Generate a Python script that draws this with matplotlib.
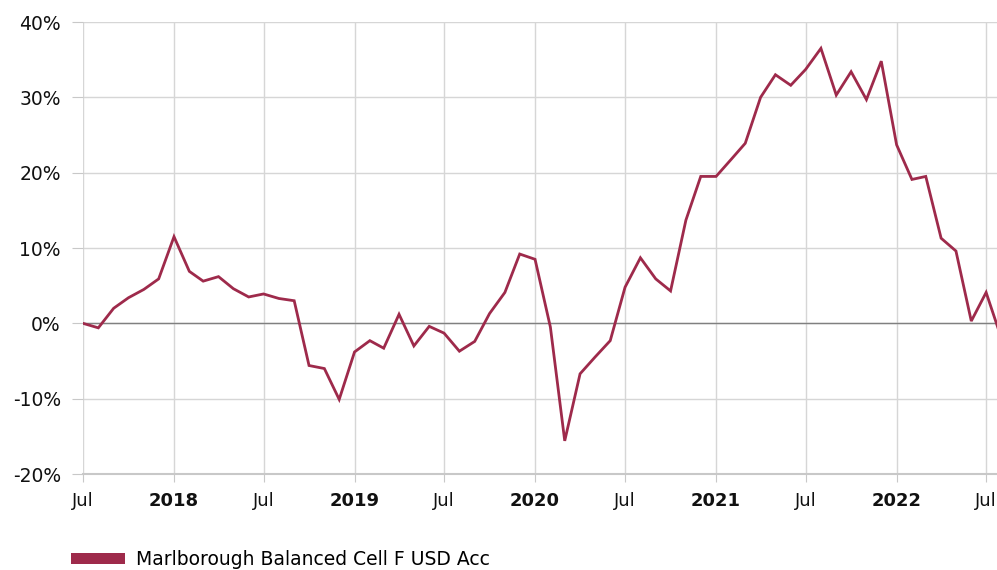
import matplotlib
matplotlib.use("Agg")
import matplotlib.pyplot as plt
from matplotlib.patches import Patch
from matplotlib.ticker import FuncFormatter
import pandas as pd

# ---- data ----
start_month = "2017-07-01"
values = [
    0.0, -0.6, 2.0, 3.4, 4.5, 5.9,            # Jul-Dec 2017
    11.5, 6.9, 5.6, 6.2, 4.6, 3.5,            # Jan-Jun 2018
    3.9, 3.3, 3.0, -5.6, -6.0, -10.1,         # Jul-Dec 2018
    -3.8, -2.3, -3.3, 1.2, -3.0, -0.4,        # Jan-Jun 2019
    -1.3, -3.7, -2.4, 1.3, 4.1, 9.2,          # Jul-Dec 2019
    8.5, -0.5, -15.6, -6.7, -4.5, -2.3,       # Jan-Jun 2020
    4.8, 8.7, 5.9, 4.3, 13.7, 19.5,           # Jul-Dec 2020
    19.5, 21.8, 23.9, 30.0, 33.0, 31.6,       # Jan-Jun 2021
    33.7, 36.5, 30.3, 33.4, 29.7, 34.8,       # Jul-Dec 2021
    23.7, 19.1, 19.5, 11.3, 9.6, 0.3,         # Jan-Jun 2022
    4.1, -2.0,                                # Jul-Aug 2022
]
series_name = "Marlborough Balanced Cell F USD Acc"
y_ticks = [-20, -10, 0, 10, 20, 30, 40]
x_tick_dates = ["2017-07-01", "2018-01-01", "2018-07-01", "2019-01-01", "2019-07-01",
                "2020-01-01", "2020-07-01", "2021-01-01", "2021-07-01", "2022-01-01",
                "2022-07-01"]
x_tick_labels = ["Jul", "2018", "Jul", "2019", "Jul", "2020", "Jul", "2021", "Jul", "2022", "Jul"]

dates = pd.date_range(start_month, periods=len(values), freq="MS")

# ---- figure ----
plt.rcParams['font.family'] = ['DejaVu Sans']
fig = plt.figure(figsize=(9.97, 5.70), dpi=100)
ax = fig.add_axes([83/997, 96/570, 914/997, 452/570])

line_color = "#9e2a4b"
ax.plot(dates, values, color=line_color, lw=2.0, solid_joinstyle="miter", zorder=3)

ax.set_ylim(-20, 40)
ax.set_xlim(pd.Timestamp("2017-07-01"), pd.Timestamp("2017-07-01") + pd.Timedelta(days=1848))

ax.set_yticks(y_ticks)
ax.yaxis.set_major_formatter(FuncFormatter(lambda v, p: f"{int(v)}%"))
tick_dt = pd.to_datetime(x_tick_dates)
ax.set_xticks(tick_dt)
ax.set_xticklabels(x_tick_labels)
for lab in ax.get_xticklabels():
    if lab.get_text() != "Jul":
        lab.set_fontweight("bold")

ax.grid(True, color="#d6d6d6", lw=1.0, zorder=0)
ax.axhline(0, color="#808080", lw=1.0, zorder=2)

for s in ["top", "right", "left"]:
    ax.spines[s].set_visible(False)
ax.spines["bottom"].set_color("#c8c8c8")
ax.spines["bottom"].set_linewidth(1.5)

ax.tick_params(axis="y", length=8, color="#c8c8c8", labelsize=13.5, pad=8, labelcolor="#111111")
ax.tick_params(axis="x", length=6, color="#c8c8c8", labelsize=13, pad=7, labelcolor="#111111")

handle = Patch(facecolor=line_color, edgecolor="none")
fig.legend([handle], [series_name], loc="lower left", bbox_to_anchor=(63/997, -6.5/570),
           frameon=False, fontsize=13.5, handlelength=2.9, handleheight=0.5,
           handletextpad=0.6, borderaxespad=0)

fig.savefig("out.png", dpi=100)
